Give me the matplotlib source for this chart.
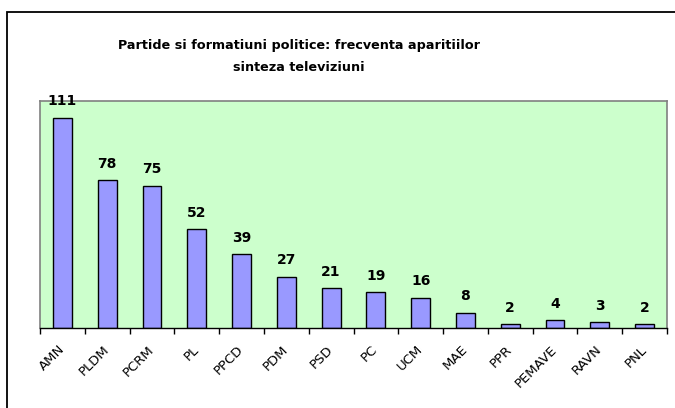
import numpy as np
import matplotlib
matplotlib.use('Agg')
import matplotlib.pyplot as plt
from matplotlib.patches import Rectangle

partide = ['AMN', 'PLDM', 'PCRM', 'PL', 'PPCD', 'PDM', 'PSD', 'PC', 'UCM',
           'MAE', 'PPR', 'PEMAVE', 'RAVN', 'PNL']
aparitii = [111, 78, 75, 52, 39, 27, 21, 19, 16, 8, 2, 4, 3, 2]
titlu1 = 'Partide si formatiuni politice: frecventa aparitiilor'
titlu2 = 'sinteza televiziuni'

plt.rcParams['font.family'] = 'DejaVu Sans'

fig = plt.figure(figsize=(6.75, 4.08), dpi=100)
# chenarul graficului (iese din imagine la dreapta si jos)
fig.patches.append(Rectangle((7 / 675, -0.2), 1.2, 0.2 + 1 - 11.5 / 408,
                             transform=fig.transFigure, fill=False,
                             edgecolor='black', linewidth=1.3))

ax = fig.add_axes([40 / 675, 80 / 408, 627 / 675, 227.5 / 408])
ax.set_facecolor('#CCFFCC')

x = np.arange(len(partide))
ax.bar(x, aparitii, width=0.42, color='#9999FF', edgecolor='black', linewidth=1)
for xi, v in zip(x, aparitii):
    ax.annotate(str(v), (xi, v), xytext=(0, 6.8), textcoords='offset points',
                ha='center', va='bottom', fontsize=10, fontweight='bold')

ax.set_xlim(-0.5, len(partide) - 0.5)
ax.set_ylim(0, 120)
ax.set_yticks([])
ax.set_xticks(np.arange(len(partide) + 1) - 0.5)
ax.set_xticklabels([])
ax.tick_params(axis='x', which='major', length=4, width=1, color='black')
ax.set_xticks(x, minor=True)
ax.set_xticklabels(partide, minor=True, rotation=45, ha='right', va='center',
                   rotation_mode='anchor', fontsize=9.5)
ax.tick_params(axis='x', which='minor', length=0, pad=14)

for s in ['left', 'right', 'top']:
    ax.spines[s].set_color('#808080')
    ax.spines[s].set_linewidth(1.2)
ax.spines['bottom'].set_color('black')
ax.spines['bottom'].set_linewidth(1)

fig.text(299 / 675, 1 - 49 / 408, titlu1, ha='center', va='baseline',
         fontsize=9.2, fontweight='bold')
fig.text(299 / 675, 1 - 71 / 408, titlu2, ha='center', va='baseline',
         fontsize=9.2, fontweight='bold')

plt.savefig('out.png', dpi=100)
